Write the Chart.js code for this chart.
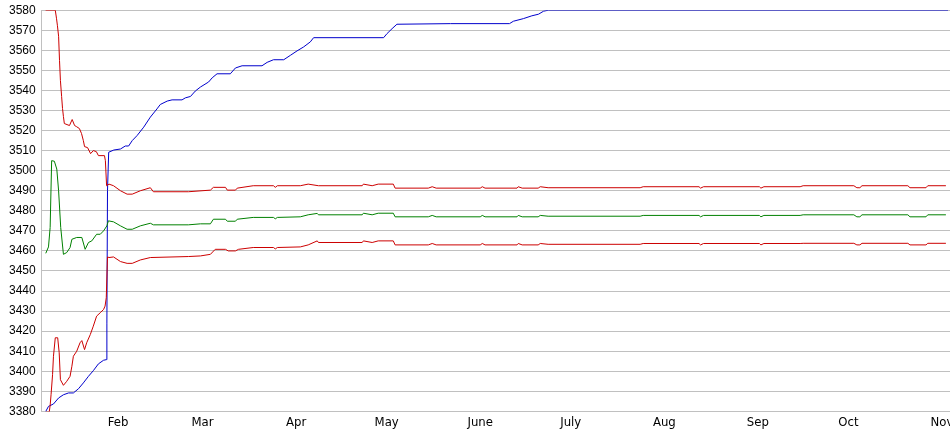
<!DOCTYPE html>
<html>
<head>
<meta charset="utf-8">
<script src="https://cdn.jsdelivr.net/npm/chart.js@4/dist/chart.umd.min.js"></script>
<style>
    html, body { margin: 0; padding: 0; background: #fff; overflow: hidden; }
    #wrap { width: 980px; height: 439px; margin-top: -3px; }
</style>
</head>
<body>
<div id="wrap"><canvas id="chart" width="980" height="439"></canvas></div>
<script>
// x values are day-of-year numbers (Jan 1 = 0)
const monthDays = [31, 59, 90, 120, 151, 181, 212, 243, 273, 304];
const monthLabels = ['Feb', 'Mar', 'Apr', 'May', 'June', 'July', 'Aug', 'Sep', 'Oct', 'Nov'];

const highDays = [7.0, 10.2, 10.6, 10.9, 11.3, 11.6, 11.9, 12.3, 12.6, 12.9, 13.2, 14.9, 15.8, 16.6, 17.2, 18.2, 18.9, 19.5, 19.9, 20.9, 21.9, 22.8, 23.8, 24.5, 26.5, 26.8, 27.2, 28.0, 29.5, 31.8, 34.0, 35.7, 38.4, 41.7, 42.7, 54.3, 61.6, 62.6, 66.6, 67.2, 69.9, 70.5, 75.8, 82.5, 83.1, 83.8, 91.4, 94.0, 97.4, 111.9, 112.3, 115.2, 117.2, 122.2, 122.8, 133.8, 135.1, 136.4, 151.0, 151.7, 152.6, 163.2, 163.6, 164.9, 170.2, 170.9, 173.5, 204, 205, 223.5, 224, 225, 243.5, 244, 245, 257, 258, 274.8, 275.8, 276.8, 277.5, 292.7, 293.4, 298.7, 299.3, 305.3];
const highValues = [3580, 3580, 3576, 3572.5, 3567, 3555, 3545, 3537, 3531, 3527, 3523.5, 3522.5, 3525.5, 3522.5, 3522, 3521, 3518.5, 3515, 3512, 3511.5, 3508.5, 3510, 3509.5, 3507.5, 3507.5, 3505, 3492.5, 3493.3, 3492.5, 3490, 3488.3, 3488.3, 3490, 3491.5, 3489.5, 3489.5, 3490.3, 3491.7, 3491.7, 3490.3, 3490.3, 3491.3, 3492.5, 3492.5, 3491.7, 3492.5, 3492.5, 3493.3, 3492.5, 3492.5, 3493.3, 3492.5, 3493.3, 3493.3, 3491.3, 3491.3, 3492, 3491.3, 3491.3, 3492, 3491.3, 3491.3, 3492, 3491.3, 3491.3, 3492, 3491.5, 3491.5, 3492, 3492, 3491.3, 3492, 3492, 3491.3, 3492, 3492, 3492.5, 3492.5, 3491.5, 3491.5, 3492.5, 3492.5, 3491.5, 3491.5, 3492.5, 3492.5];

const meanDays = [7.05, 7.95, 8.5, 9.0, 9.9, 10.7, 11.3, 12.0, 12.9, 14.0, 15.1, 15.7, 17.3, 19.0, 20.1, 21.2, 22.3, 23.9, 25.1, 26.2, 27.3, 27.8, 29.5, 31.8, 34.0, 35.7, 38.4, 41.7, 42.7, 54.3, 58.3, 61.6, 62.6, 66.6, 67.2, 69.9, 70.5, 75.8, 82.5, 83.1, 83.8, 91.4, 94.0, 97.0, 97.4, 111.9, 112.3, 115.2, 117.2, 122.2, 122.8, 133.8, 135.1, 136.4, 151.0, 151.7, 152.6, 163.2, 163.6, 164.9, 170.2, 170.9, 173.5, 204, 205, 223.5, 224, 225, 243.5, 244, 245, 257, 258, 274.8, 275.8, 276.8, 277.5, 292.7, 293.4, 298.7, 299.3, 305.3];
const meanValues = [3458.8, 3462, 3471.7, 3505, 3504.7, 3500.8, 3490, 3471.7, 3458.3, 3459.2, 3461.7, 3465.8, 3466.7, 3466.7, 3460.8, 3464.2, 3465, 3468.3, 3468.3, 3470, 3472.5, 3475, 3474.5, 3472.5, 3470.8, 3470.8, 3472.5, 3473.8, 3473, 3473, 3473.5, 3473.5, 3475.8, 3475.8, 3474.8, 3474.8, 3475.8, 3476.7, 3476.7, 3476, 3476.7, 3477, 3478, 3478.7, 3478, 3478, 3478.8, 3478, 3478.8, 3478.8, 3477, 3477, 3477.7, 3477, 3477, 3477.7, 3477, 3477, 3477.7, 3477, 3477, 3477.7, 3477.3, 3477.3, 3477.7, 3477.7, 3477, 3477.7, 3477.7, 3477, 3477.7, 3477.7, 3478, 3478, 3477, 3477, 3478, 3478, 3477, 3477, 3478, 3478];

const lowDays = [7.05, 8.2, 8.5, 8.8, 9.3, 9.6, 10.2, 11.0, 11.5, 11.9, 12.9, 14.0, 15.1, 15.7, 16.2, 17.3, 18.4, 19.0, 19.9, 20.6, 21.8, 22.8, 23.9, 25.1, 26.2, 26.7, 27.1, 27.5, 28.0, 29.5, 31.8, 34.0, 35.7, 38.4, 41.7, 54.3, 58.3, 61.6, 63.2, 66.6, 67.5, 69.9, 70.9, 75.8, 82.5, 83.1, 83.8, 91.4, 94.0, 97.0, 97.4, 111.9, 112.3, 115.2, 117.2, 122.2, 122.8, 133.8, 135.1, 136.4, 151.0, 151.7, 152.6, 163.2, 163.6, 164.9, 170.2, 170.9, 173.5, 204, 205, 223.5, 224, 225, 243.5, 244, 245, 257, 258, 274.8, 275.8, 276.8, 277.5, 292.7, 293.4, 298.7, 299.3, 305.3];
const lowValues = [3379.7, 3379.7, 3383, 3388.3, 3398.3, 3407.5, 3416.7, 3416.7, 3409.2, 3395.8, 3393, 3395, 3397.5, 3402.5, 3407.5, 3410, 3414.2, 3415.3, 3410.8, 3414.2, 3418.3, 3422.5, 3427.5, 3429.2, 3430.8, 3432.5, 3436.7, 3457, 3456.7, 3457, 3454.7, 3453.8, 3453.8, 3455.5, 3456.7, 3457.2, 3457.5, 3458.3, 3460.8, 3460.8, 3460, 3460, 3460.8, 3461.7, 3461.7, 3461, 3461.7, 3462, 3463, 3465, 3464.2, 3464.2, 3465, 3464.2, 3465, 3465, 3463, 3463, 3463.7, 3463, 3463, 3463.7, 3463, 3463, 3463.7, 3463, 3463, 3463.7, 3463.3, 3463.3, 3463.7, 3463.7, 3463, 3463.7, 3463.7, 3463, 3463.7, 3463.7, 3463.8, 3463.8, 3463, 3463, 3463.8, 3463.8, 3463, 3463, 3463.8, 3463.8];

const totalDays = [7.05, 7.95, 9.6, 11.3, 12.9, 14.6, 16.2, 17.9, 19.5, 21.2, 22.8, 24.5, 26.2, 27.1, 27.3, 27.5, 27.9, 29.6, 31.8, 33.4, 34.5, 35.7, 37.3, 39.5, 41.7, 43.9, 45.0, 47.3, 48.9, 52.2, 53.3, 55.0, 56.6, 58.3, 61.0, 62.2, 63.8, 68.2, 69.9, 72.1, 78.7, 80.4, 82.5, 85.9, 88.1, 90.3, 92.5, 94.7, 95.8, 119.0, 120.1, 121.8, 123.4, 141.1, 160.7, 162.0, 165.3, 168.1, 170.3, 172.0, 173.6, 306];
const totalValues = [3380, 3382.5, 3383.7, 3386.7, 3388.3, 3389.2, 3389.2, 3391.3, 3394.2, 3397.5, 3400.3, 3403.7, 3405.5, 3405.8, 3424, 3490, 3509.2, 3510.3, 3510.8, 3512.3, 3512.3, 3515, 3517.5, 3521.7, 3526.7, 3530.8, 3533, 3534.7, 3535.3, 3535.3, 3536.3, 3537, 3539.7, 3541.7, 3544.2, 3546.3, 3548.3, 3548.3, 3551.2, 3552.3, 3552.3, 3554, 3555.3, 3555.3, 3557.5, 3559.7, 3561.7, 3564.2, 3566.3, 3566.3, 3568.3, 3570.8, 3573, 3573.3, 3573.3, 3574.5, 3575.8, 3577.2, 3578, 3579.5, 3580, 3580];

const pairs = (xs, ys) => xs.map((x, i) => ({ x, y: ys[i] }));

function line(xs, ys, color) {
    return {
        data: pairs(xs, ys),
        borderColor: color,
        borderWidth: 1,
        pointRadius: 0,
        tension: 0,
        fill: false,
    };
}

new Chart(document.getElementById('chart'), {
    type: 'line',
    data: {
        datasets: [
            line(lowDays, lowValues, '#cc0000'),
            line(meanDays, meanValues, '#008000'),
            line(highDays, highValues, '#cc0000'),
            line(totalDays, totalValues, '#0000cc'),
        ],
    },
    options: {
        responsive: false,
        animation: false,
        devicePixelRatio: 1,
        layout: { padding: { left: 3, top: 7, right: 0, bottom: 3 } },
        plugins: { legend: { display: false }, tooltip: { enabled: false } },
        scales: {
            x: {
                type: 'linear',
                min: 5.7,
                max: 316.6,
                afterBuildTicks: (scale) => { scale.ticks = monthDays.map((v) => ({ value: v })); },
                ticks: {
                    autoSkip: false,
                    maxRotation: 0,
                    padding: 3,
                    color: '#000',
                    font: { family: "'Liberation Sans Narrow', 'DejaVu Sans Condensed', 'Liberation Sans', Arial", size: 13 },
                    callback: (v) => monthLabels[monthDays.indexOf(v)],
                },
                grid: { display: false, drawTicks: false },
                border: { display: true, color: '#c0c0c0' },
            },
            y: {
                min: 3380,
                max: 3580,
                ticks: {
                    stepSize: 10,
                    autoSkip: false,
                    padding: 6,
                    color: '#000',
                    font: { family: "'Liberation Sans', Arial", size: 12 },
                    callback: (v) => String(v),
                },
                grid: { color: '#c0c0c0', drawTicks: false },
                border: { color: '#c0c0c0' },
            },
        },
    },
});
</script>
</body>
</html>
